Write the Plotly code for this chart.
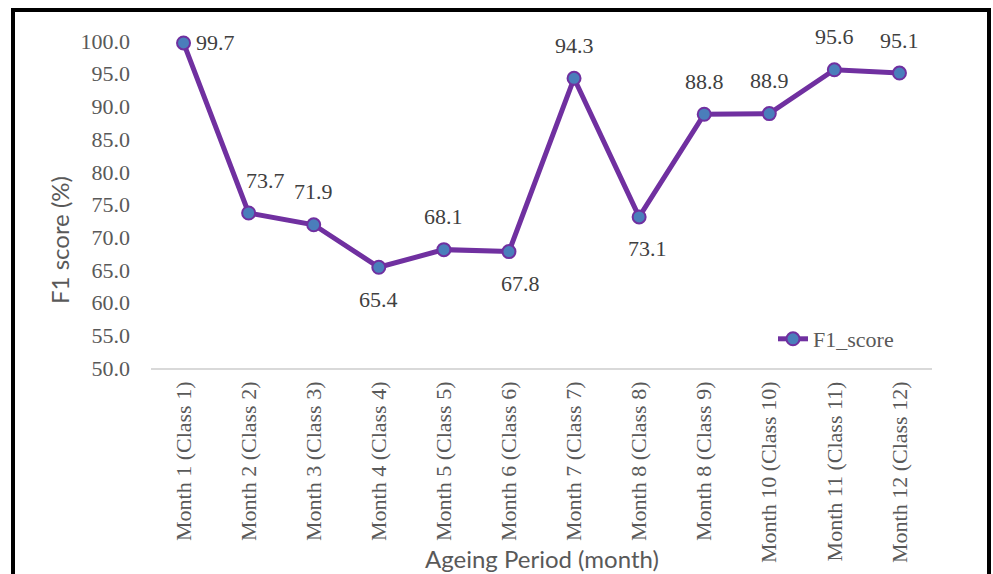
import plotly.graph_objects as go

# Ageing period categories and F1 scores per class
periods = [
    "Month 1 (Class 1)", "Month 2 (Class 2)", "Month 3 (Class 3)",
    "Month 4 (Class 4)", "Month 5 (Class 5)", "Month 6 (Class 6)",
    "Month 7 (Class 7)", "Month 8 (Class 8)", "Month 8 (Class 9)",
    "Month 10 (Class 10)", "Month 11 (Class 11)", "Month 12 (Class 12)",
]
f1_scores = [99.7, 73.7, 71.9, 65.4, 68.1, 67.8, 94.3, 73.1, 88.8, 88.9, 95.6, 95.1]
label_side = ["right", "above", "above", "below", "above", "below",
              "above", "below", "above", "above", "above", "above"]
label_dx = [0, 17, 0, 0, 0, 12, 0, 8, 0, 0, 0, 0]

SERIF = "Liberation Serif"
SANS = "Lato"
LINE_COLOR = "#7030A0"
MARKER_FILL = "#4A7EBB"
TEXT_GRAY = "#595959"

fig = go.Figure()
fig.add_trace(go.Scatter(
    x=periods, y=f1_scores, mode="lines+markers", name="F1_score",
    line=dict(color=LINE_COLOR, width=5),
    marker=dict(size=13, color=MARKER_FILL, line=dict(color=LINE_COLOR, width=2)),
    cliponaxis=False,
))

# Value labels next to each point
annotations = []
for cat, val, side, dx in zip(periods, f1_scores, label_side, label_dx):
    a = dict(x=cat, y=val, xref="x", yref="y", text=f"{val:.1f}", showarrow=False,
             font=dict(family=SERIF, size=22, color="#404040"))
    if side == "right":
        a.update(xanchor="left", xshift=10, yshift=0)
    elif side == "above":
        a.update(xanchor="center", xshift=dx, yshift=33)
    else:
        a.update(xanchor="center", xshift=dx, yshift=-32)
    annotations.append(a)

# Axis titles
annotations.append(dict(text="F1 score (%)", xref="paper", yref="paper",
                        x=(59 - 151) / 781, y=(368 - 240) / 327, textangle=-90,
                        showarrow=False, xanchor="center", yanchor="middle",
                        font=dict(family=SANS, size=24, color=TEXT_GRAY)))
annotations.append(dict(text="Ageing Period (month)", xref="paper", yref="paper",
                        x=0.5, y=(368 - 558) / 327, showarrow=False,
                        xanchor="center", yanchor="middle",
                        font=dict(family=SANS, size=24, color=TEXT_GRAY)))

fig.update_layout(
    width=993, height=574,
    margin=dict(l=151, r=61, t=41, b=206),
    paper_bgcolor="white", plot_bgcolor="white",
    showlegend=True,
    legend=dict(x=(773 - 151) / 781, y=(368 - 339) / 327, xanchor="left", yanchor="middle",
                font=dict(family=SERIF, size=22, color=TEXT_GRAY),
                bgcolor="rgba(0,0,0,0)"),
    annotations=annotations,
    shapes=[dict(type="rect", xref="paper", yref="paper",
                 x0=(13 - 151) / 781, x1=(989 - 151) / 781,
                 y0=(368 - 10) / 327, y1=(368 - 620) / 327,
                 line=dict(color="black", width=4), fillcolor="rgba(0,0,0,0)")],
)

fig.update_xaxes(
    type="category", range=[-0.5, len(periods) - 0.5],
    tickangle=-90, showgrid=False, zeroline=False,
    showline=True, linecolor="#D9D9D9", linewidth=1.5,
    ticks="", ticklabelstandoff=3, automargin=False,
    tickfont=dict(family=SERIF, size=22, color=TEXT_GRAY),
)
fig.update_yaxes(
    range=[50, 100], dtick=5, tick0=50, tickformat=".1f",
    showgrid=False, zeroline=False, showline=False, ticks="",
    ticklabelstandoff=20, automargin=False,
    tickfont=dict(family=SERIF, size=22, color=TEXT_GRAY),
)

fig.write_html("out.html")
